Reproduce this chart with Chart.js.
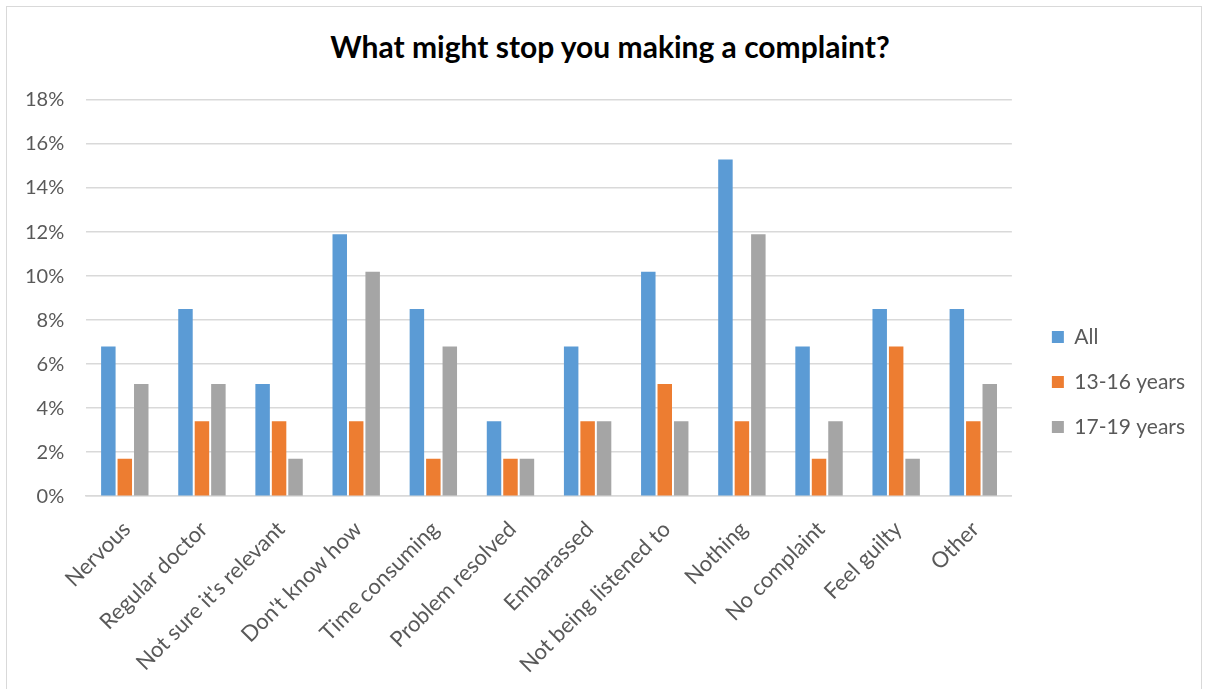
<!DOCTYPE html>
<html>
<head>
<meta charset="utf-8">
<script src="https://cdn.jsdelivr.net/npm/chart.js@4"></script>
<style>
  body { margin: 0; background: #fff; overflow: hidden; }
  #frame {
    position: absolute; left: 6px; top: 6px; width: 1196px; height: 700px;
    border: 1px solid #d9d9d9; box-sizing: border-box;
  }
  #title {
    position: absolute; left: 0; top: 28px; width: 1220px; text-align: center;
    font: bold 30px Lato, "Liberation Sans", sans-serif; color: #000;
  }
  #wrap { position: absolute; left: 0; top: 66px; width: 1205px; height: 638px; }
</style>
</head>
<body>
<div id="frame"></div>
<div id="title">What might stop you making a complaint?</div>
<div id="wrap"><canvas id="chart"></canvas></div>
<script>
const categories = [
  "Nervous", "Regular doctor", "Not sure it's relevant", "Don't know how",
  "Time consuming", "Problem resolved", "Embarassed", "Not being listened to",
  "Nothing", "No complaint", "Feel guilty", "Other"
];
const allValues  = [6.8, 8.5, 5.1, 11.9, 8.5, 3.4, 6.8, 10.2, 15.3, 6.8, 8.5, 8.5];
const age13to16  = [1.7, 3.4, 3.4, 3.4, 1.7, 1.7, 3.4, 5.1, 3.4, 1.7, 6.8, 3.4];
const age17to19  = [5.1, 5.1, 1.7, 10.2, 6.8, 1.7, 3.4, 3.4, 11.9, 3.4, 1.7, 5.1];
const yMax = 18;
const yStep = 2;

const textColor = "#595959";
const font = "Lato, 'Liberation Sans', sans-serif";

new Chart(document.getElementById("chart").getContext("2d"), {
  type: "bar",
  data: {
    labels: categories,
    datasets: [
      { label: "All", data: allValues, backgroundColor: "#5b9bd5" },
      { label: "13-16 years", data: age13to16, backgroundColor: "#ed7d31" },
      { label: "17-19 years", data: age17to19, backgroundColor: "#a5a5a5" },
    ],
  },
  options: {
    responsive: true,
    maintainAspectRatio: false,
    animation: false,
    datasets: { bar: { categoryPercentage: 0.64, barPercentage: 0.88 } },
    layout: { padding: { left: 3, right: 10, top: 8, bottom: 14 } },
    plugins: {
      title: { display: false },
      tooltip: { enabled: false },
      legend: {
        position: "right",
        align: "center",
        labels: {
          boxWidth: 12, boxHeight: 12, padding: 24,
          color: textColor, font: { family: font, size: 21 },
        },
      },
    },
    scales: {
      x: {
        grid: { display: false },
        border: { color: "#d9d9d9", width: 1.5 },
        ticks: {
          color: textColor, font: { family: font, size: 22 },
          minRotation: 45, maxRotation: 45, padding: 12, labelOffset: 2,
          autoSkip: false,
        },
      },
      y: {
        min: 0, max: yMax,
        border: { display: false },
        grid: { color: "#d9d9d9", lineWidth: 1.5, drawTicks: false },
        ticks: {
          stepSize: yStep, padding: 22,
          color: textColor, font: { family: font, size: 20 },
          callback: (v) => v + "%",
        },
      },
      // empty axis: only keeps a gap between the plot and the legend
      gap: {
        position: "right",
        min: 0, max: 1,
        grid: { display: false },
        border: { display: false },
        ticks: { display: false },
        afterFit: (scale) => { scale.width = 16; },
      },
    },
  },
});
</script>
</body>
</html>
